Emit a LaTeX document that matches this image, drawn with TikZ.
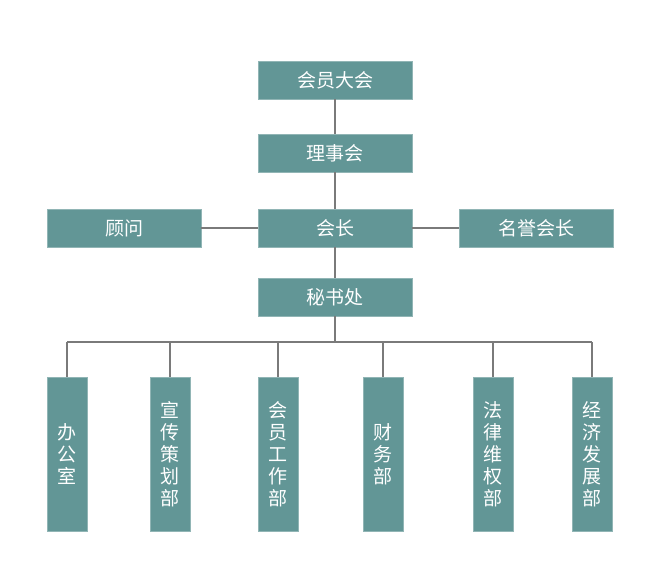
\documentclass[tikz,border=0pt]{standalone}
\usepackage{fontspec}
\newfontfamily\cjk{Noto Sans CJK SC}
\definecolor{boxfill}{HTML}{629696}
\definecolor{linegray}{HTML}{7A7A7A}
\tikzset{
  wbox/.style={draw=boxfill!70!white,fill=boxfill,text=white,minimum width=154pt,minimum height=38pt,inner sep=0pt,font=\cjk\fontsize{19pt}{22pt}\selectfont},
  tbox/.style={draw=boxfill!70!white,fill=boxfill,text=white,minimum width=40pt,minimum height=154pt,inner sep=0pt,align=center,font=\cjk\fontsize{19pt}{22pt}\selectfont},
  link/.style={draw=linegray,line width=1.2pt}
}
\begin{document}
\begin{tikzpicture}[x=1pt,y=-1pt]
  \useasboundingbox (0,0) rectangle (662,567);
  \node[wbox] (assembly) at (335,80) {会员大会};
  \node[wbox] (council) at (335,153) {理事会};
  \node[wbox] (president) at (335,228) {会长};
  \node[wbox] (advisor) at (124,228) {顾问};
  \node[wbox] (honorary) at (536,228) {名誉会长};
  \node[wbox] (secretariat) at (335,297) {秘书处};
  \coordinate (bus) at (335,342);
  \foreach \name/\x/\txt in {office/67/办\\公\\室, publicity/170/宣\\传\\策\\划\\部,
      member/278/会\\员\\工\\作\\部, finance/383/财\\务\\部,
      legal/493/法\\律\\维\\权\\部, economy/592/经\\济\\发\\展\\部} {
    \node[tbox] (\name) at (\x,454) {\txt};
    \draw[link] (\name.north) -- (\x,342);
  }
  \draw[link] (assembly) -- (council);
  \draw[link] (council) -- (president);
  \draw[link] (president) -- (secretariat);
  \draw[link] (advisor) -- (president);
  \draw[link] (president) -- (honorary);
  \draw[link] (secretariat) -- (bus);
  \draw[link] (67,342) -- (592,342);
\end{tikzpicture}
\end{document}
